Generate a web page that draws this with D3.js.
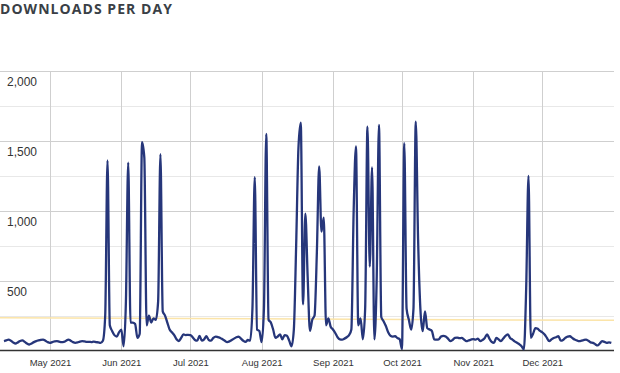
<!DOCTYPE html>
<html>
<head>
<meta charset="utf-8">
<script src="https://cdn.jsdelivr.net/npm/d3@7"></script>
<style>
  body { margin: 0; background: #fff; }
  svg { display: block; }
</style>
</head>
<body>
<svg id="chart" width="620" height="373"></svg>
<script>
// daily downloads, one value per day from startDay
var startDay = "2021-04-11";
var downloads = [
  67, 72, 78, 70, 58, 50, 58, 68, 72, 62,
  50, 43, 50, 60, 67, 72, 76, 78, 70, 60,
  55, 60, 66, 67, 63, 60, 62, 70, 78, 70,
  60, 55, 58, 64, 67, 65, 62, 62, 60, 63,
  60, 58, 55, 70, 250, 1360, 180, 140, 110, 100,
  130, 150, 30, 350, 1345, 200, 200, 190, 90, 120,
  1490, 1380, 180, 250, 200, 230, 220, 350, 1405, 280,
  250, 200, 150, 130, 110, 80, 68, 90, 115, 110,
  112, 110, 95, 75, 70, 105, 70, 80, 102, 75,
  70, 90, 100, 95, 90, 80, 70, 60, 65, 75,
  85, 95, 100, 85, 70, 62, 75, 70, 300, 1240,
  150, 140, 60, 300, 1550, 220, 200, 150, 90, 100,
  115, 80, 110, 105, 70, 30, 150, 750, 1450, 1630,
  330, 980, 530, 140, 220, 250, 700, 1317, 850, 950,
  180, 230, 170, 150, 125, 95, 80, 78, 85, 95,
  110, 150, 1000, 1460, 180, 230, 80, 300, 1602, 600,
  1310, 80, 500, 1614, 240, 210, 175, 130, 105, 100,
  102, 90, 80, 10, 1483, 300, 220, 150, 300, 1638,
  800, 300, 138, 280, 160, 150, 140, 80, 78, 80,
  100, 105, 100, 85, 67, 75, 90, 92, 88, 90,
  78, 67, 72, 78, 82, 78, 85, 67, 75, 90,
  115, 85, 62, 55, 90, 80, 67, 85, 105, 115,
  90, 78, 65, 55, 45, 31, 8, 450, 1250, 90,
  120, 160, 155, 140, 130, 115, 90, 67, 80, 90,
  95, 102, 70, 75, 90, 100, 102, 90, 78, 72,
  67, 70, 75, 78, 70, 58, 55, 45, 36, 50,
  67, 62, 55, 58, 55
];
// average trend line, value at first and last day
var trend = [234, 216];
var yTicks = [0, 250, 500, 750, 1000, 1250, 1500, 1750, 2000];
var yLabels = [500, 1000, 1500, 2000];
var monthTicks = ["2021-05-01", "2021-06-01", "2021-07-01", "2021-08-01",
                  "2021-09-01", "2021-10-01", "2021-11-01", "2021-12-01"];

var svg = d3.select("#chart");
var parse = d3.timeParse("%Y-%m-%d");
var t0 = parse(startDay);
var data = downloads.map(function (v, i) { return { d: d3.timeDay.offset(t0, i), v: v }; });
var months = monthTicks.map(parse);

// x scale anchored on May 1 and Dec 1 gridlines
var x = d3.scaleTime().domain([months[0], months[7]]).range([50, 542.3]);
var y = d3.scaleLinear().domain([0, 2000]).range([350.5, 71]);
var left = 0, right = 614;

// title
svg.append("text")
  .attr("x", 0).attr("y", 14)
  .style("font-family", "'Open Sans', sans-serif")
  .style("font-weight", "700")
  .style("font-size", "14px")
  .style("letter-spacing", "1.05px")
  .attr("fill", "#3a3f46")
  .text("DOWNLOADS PER DAY");

// horizontal grid
svg.append("g").selectAll("line").data(yTicks.slice(1)).join("line")
  .attr("x1", left).attr("x2", right)
  .attr("y1", function (d) { return Math.round(y(d)) + 0.5; })
  .attr("y2", function (d) { return Math.round(y(d)) + 0.5; })
  .attr("stroke", function (d) { return d % 500 === 0 ? "#cfcfcf" : "#e8e8e8"; })
  .attr("stroke-width", 1);

// vertical grid
svg.append("g").selectAll("line").data(months).join("line")
  .attr("x1", function (d) { return Math.round(x(d)) + 0.5; })
  .attr("x2", function (d) { return Math.round(x(d)) + 0.5; })
  .attr("y1", y(2000)).attr("y2", 350)
  .attr("stroke", "#cfcfcf");

// y labels
svg.append("g").selectAll("text").data(yLabels).join("text")
  .attr("x", 7)
  .attr("y", function (d) { return y(d) + 15; })
  .style("font-family", "'Liberation Sans', Arial, sans-serif")
  .style("font-size", "12px")
  .attr("fill", "#333")
  .text(d3.format(","));

// trend line
svg.append("line")
  .attr("x1", left).attr("x2", right)
  .attr("y1", y(trend[0])).attr("y2", y(trend[1]))
  .attr("stroke", "#fbe4a8").attr("stroke-width", 1.5);

// x axis
var xAxis = d3.axisBottom(x).tickValues(months).tickSize(0).tickPadding(9)
  .tickFormat(d3.timeFormat("%b %Y"));
var gx = svg.append("g").attr("transform", "translate(0,350)").call(xAxis);
gx.select(".domain").remove();
gx.selectAll("text")
  .style("font-family", "'Liberation Sans', Arial, sans-serif")
  .style("font-size", "9.5px")
  .attr("fill", "#333");
svg.append("line")
  .attr("x1", left).attr("x2", right)
  .attr("y1", 350.5).attr("y2", 350.5)
  .attr("stroke", "#333").attr("stroke-width", 1.5);

// series
var line = d3.line()
  .x(function (d) { return x(d.d); })
  .y(function (d) { return y(d.v); })
  .curve(d3.curveMonotoneX);
svg.append("path").datum(data)
  .attr("d", line)
  .attr("fill", "none")
  .attr("stroke", "#26367a")
  .attr("stroke-width", 2.3)
  .attr("stroke-linejoin", "round");
</script>
</body>
</html>
